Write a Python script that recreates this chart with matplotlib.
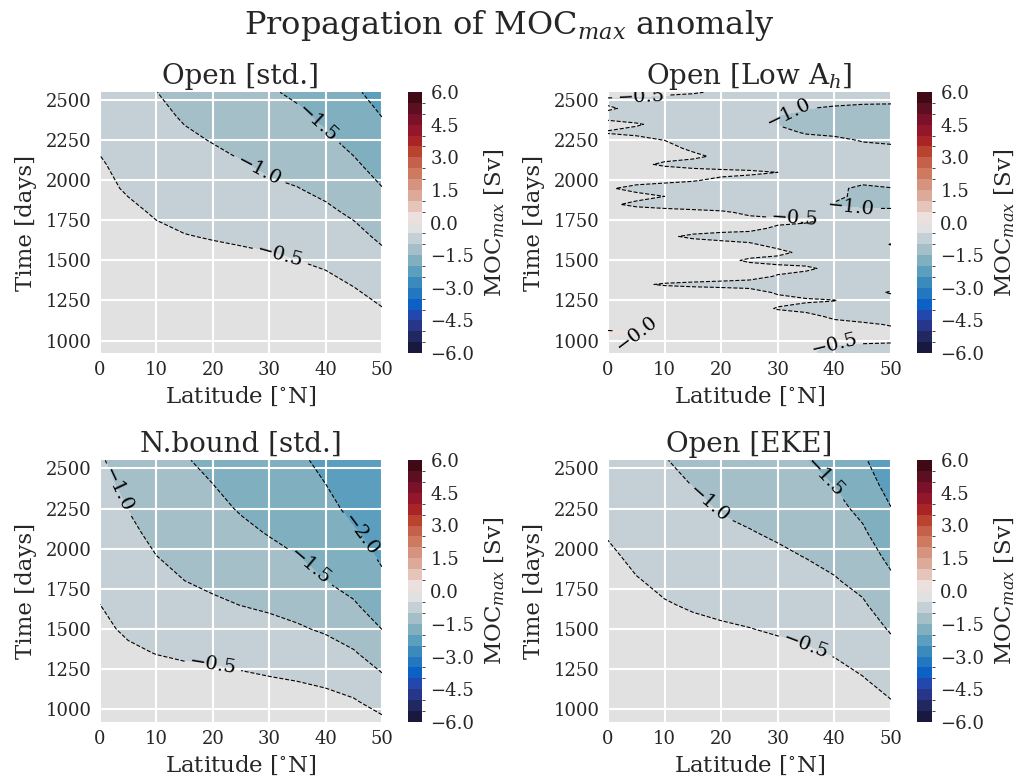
import numpy as np
import matplotlib
matplotlib.use("Agg")
import matplotlib.pyplot as plt
from matplotlib.colors import ListedColormap, BoundaryNorm

plt.rcParams.update({
    "font.family": "serif",
    "font.serif": ["DejaVu Serif"],
    "mathtext.fontset": "dejavuserif",
    "text.color": "#262626",
    "axes.labelcolor": "#262626",
    "xtick.color": "#262626",
    "ytick.color": "#262626",
    "axes.facecolor": "#EAEAF2",
    "axes.edgecolor": "white",
    "grid.color": "white",
    "axes.linewidth": 0,
    "xtick.major.size": 0,
    "ytick.major.size": 0,
    "contour.negative_linestyle": "dashed",
})

# ---------------- data ----------------
lat = [0, 5, 10, 15, 20, 25, 30, 35, 40, 45, 50]
time_smooth = [900, 1050, 1200, 1350, 1500, 1650, 1800, 1950, 2100, 2250, 2400, 2550]

open_std = [
    [-0.15, -0.20, -0.21, -0.24, -0.23, -0.24, -0.26, -0.28, -0.27, -0.26, -0.33],
    [-0.18, -0.24, -0.25, -0.29, -0.27, -0.28, -0.30, -0.33, -0.31, -0.30, -0.40],
    [-0.22, -0.28, -0.29, -0.34, -0.31, -0.32, -0.35, -0.38, -0.35, -0.338, -0.487],
    [-0.26, -0.32, -0.34, -0.39, -0.35, -0.37, -0.40, -0.44, -0.396, -0.518, -0.682],
    [-0.30, -0.36, -0.39, -0.44, -0.396, -0.415, -0.441, -0.498, -0.571, -0.698, -0.877],
    [-0.34, -0.40, -0.438, -0.487, -0.520, -0.555, -0.605, -0.662, -0.747, -0.879, -1.076],
    [-0.38, -0.438, -0.530, -0.598, -0.644, -0.695, -0.769, -0.826, -0.923, -1.062, -1.282],
    [-0.42, -0.534, -0.623, -0.709, -0.768, -0.836, -0.933, -0.990, -1.094, -1.252, -1.488],
    [-0.462, -0.630, -0.716, -0.820, -0.892, -0.976, -1.076, -1.136, -1.262, -1.442, -1.661],
    [-0.563, -0.726, -0.808, -0.930, -1.017, -1.116, -1.203, -1.280, -1.430, -1.610, -1.833],
    [-0.664, -0.822, -0.901, -1.041, -1.141, -1.257, -1.330, -1.424, -1.591, -1.768, -2.005],
    [-0.764, -0.918, -0.994, -1.152, -1.265, -1.397, -1.457, -1.568, -1.747, -1.926, -2.180],
]

nbound_std = [
    [-0.23, -0.29, -0.28, -0.28, -0.29, -0.31, -0.33, -0.28, -0.31, -0.38, -0.371],
    [-0.27, -0.34, -0.33, -0.33, -0.34, -0.37, -0.40, -0.325, -0.376, -0.465, -0.660],
    [-0.32, -0.40, -0.384, -0.40, -0.412, -0.448, -0.492, -0.535, -0.600, -0.714, -0.948],
    [-0.38, -0.451, -0.507, -0.55, -0.588, -0.634, -0.687, -0.744, -0.825, -0.962, -1.227],
    [-0.44, -0.544, -0.629, -0.70, -0.765, -0.821, -0.881, -0.954, -1.050, -1.210, -1.504],
    [-0.498, -0.637, -0.751, -0.85, -0.941, -1.005, -1.061, -1.138, -1.275, -1.459, -1.708],
    [-0.573, -0.730, -0.873, -0.999, -1.071, -1.139, -1.217, -1.316, -1.499, -1.636, -1.914],
    [-0.648, -0.822, -0.995, -1.094, -1.178, -1.272, -1.374, -1.493, -1.624, -1.800, -2.062],
    [-0.723, -0.915, -1.097, -1.188, -1.284, -1.406, -1.525, -1.599, -1.748, -1.964, -2.169],
    [-0.798, -1.009, -1.197, -1.281, -1.391, -1.537, -1.654, -1.703, -1.873, -2.113, -2.276],
    [-0.873, -1.116, -1.298, -1.375, -1.497, -1.662, -1.784, -1.807, -1.997, -2.256, -2.384],
    [-0.948, -1.223, -1.399, -1.469, -1.604, -1.787, -1.913, -1.910, -2.121, -2.400, -2.450],
]

open_eke = [
    [-0.17, -0.20, -0.22, -0.24, -0.25, -0.27, -0.27, -0.29, -0.28, -0.31, -0.299],
    [-0.20, -0.23, -0.26, -0.28, -0.30, -0.32, -0.31, -0.34, -0.32, -0.37, -0.484],
    [-0.24, -0.27, -0.31, -0.33, -0.35, -0.37, -0.36, -0.40, -0.379, -0.492, -0.669],
    [-0.28, -0.32, -0.36, -0.38, -0.40, -0.43, -0.406, -0.458, -0.526, -0.645, -0.854],
    [-0.32, -0.37, -0.41, -0.433, -0.460, -0.492, -0.537, -0.596, -0.674, -0.798, -1.039],
    [-0.36, -0.42, -0.479, -0.529, -0.575, -0.614, -0.668, -0.734, -0.821, -0.951, -1.229],
    [-0.40, -0.481, -0.563, -0.625, -0.689, -0.736, -0.798, -0.873, -0.968, -1.111, -1.418],
    [-0.44, -0.567, -0.647, -0.722, -0.803, -0.858, -0.929, -1.010, -1.106, -1.275, -1.608],
    [-0.528, -0.653, -0.731, -0.818, -0.918, -0.980, -1.053, -1.130, -1.242, -1.439, -1.797],
    [-0.616, -0.740, -0.815, -0.914, -1.030, -1.096, -1.168, -1.251, -1.378, -1.601, -1.987],
    [-0.705, -0.826, -0.899, -1.010, -1.137, -1.212, -1.284, -1.371, -1.514, -1.763, -2.177],
    [-0.793, -0.912, -0.983, -1.106, -1.244, -1.327, -1.399, -1.492, -1.650, -1.925, -2.367],
]

time_lowah = list(range(900, 2551, 50))
open_low_ah = [
    [-0.20, -0.22, -0.24, -0.26, -0.28, -0.30, -0.34, -0.46, -0.62, -0.68, -0.70],  # 900
    [-0.22, -0.24, -0.26, -0.28, -0.30, -0.32, -0.36, -0.42, -0.60, -0.65, -0.68],  # 950
    [-0.10, -0.12, -0.26, -0.28, -0.30, -0.32, -0.34, -0.36, -0.38, -0.40, -0.42],  # 1000
    [0.04, 0.02, -0.22, -0.28, -0.30, -0.32, -0.34, -0.36, -0.38, -0.40, -0.42],    # 1050
    [-0.12, -0.20, -0.28, -0.30, -0.32, -0.34, -0.36, -0.38, -0.40, -0.45, -0.52],  # 1100
    [-0.20, -0.26, -0.30, -0.32, -0.34, -0.36, -0.38, -0.40, -0.56, -0.63, -0.66],  # 1150
    [-0.22, -0.28, -0.30, -0.33, -0.36, -0.38, -0.52, -0.60, -0.64, -0.66, -0.70],  # 1200
    [-0.24, -0.28, -0.31, -0.34, -0.36, -0.38, -0.42, -0.46, -0.49, -0.62, -0.75],  # 1250
    [-0.25, -0.29, -0.32, -0.35, -0.37, -0.40, -0.53, -0.62, -0.66, -0.80, -1.05],  # 1300
    [-0.28, -0.45, -0.53, -0.56, -0.58, -0.60, -0.62, -0.65, -0.68, -0.72, -0.78],  # 1350
    [-0.26, -0.30, -0.33, -0.36, -0.39, -0.42, -0.52, -0.60, -0.64, -0.68, -0.72],  # 1400
    [-0.27, -0.31, -0.34, -0.37, -0.39, -0.41, -0.43, -0.45, -0.58, -0.64, -0.70],  # 1450
    [-0.28, -0.32, -0.36, -0.40, -0.44, -0.53, -0.58, -0.62, -0.66, -0.70, -0.74],  # 1500
    [-0.29, -0.33, -0.36, -0.39, -0.41, -0.42, -0.44, -0.56, -0.62, -0.68, -0.74],  # 1550
    [-0.30, -0.34, -0.37, -0.40, -0.43, -0.47, -0.57, -0.62, -0.66, -0.74, -1.02],  # 1600
    [-0.32, -0.38, -0.46, -0.54, -0.58, -0.60, -0.63, -0.66, -0.70, -0.76, -0.85],  # 1650
    [-0.30, -0.34, -0.37, -0.40, -0.42, -0.44, -0.54, -0.60, -0.65, -0.72, -0.80],  # 1700
    [-0.31, -0.35, -0.38, -0.40, -0.42, -0.43, -0.44, -0.45, -0.56, -0.68, -0.78],  # 1750
    [-0.32, -0.36, -0.40, -0.43, -0.46, -0.55, -0.62, -0.70, -0.82, -0.92, -0.95],  # 1800
    [-0.45, -0.56, -0.60, -0.63, -0.66, -0.70, -0.76, -0.90, -1.02, -1.08, -1.05],  # 1850
    [-0.34, -0.42, -0.50, -0.55, -0.60, -0.64, -0.70, -0.80, -0.95, -1.06, -1.03],  # 1900
    [-0.47, -0.58, -0.62, -0.65, -0.68, -0.72, -0.78, -0.86, -0.96, -1.04, -1.01],  # 1950
    [-0.36, -0.40, -0.44, -0.48, -0.56, -0.62, -0.68, -0.76, -0.86, -0.95, -0.90],  # 2000
    [-0.30, -0.34, -0.37, -0.40, -0.42, -0.44, -0.50, -0.60, -0.72, -0.82, -0.88],  # 2050
    [-0.36, -0.44, -0.54, -0.60, -0.64, -0.68, -0.72, -0.78, -0.84, -0.90, -0.92],  # 2100
    [-0.34, -0.38, -0.42, -0.45, -0.55, -0.62, -0.68, -0.74, -0.82, -0.90, -0.94],  # 2150
    [-0.35, -0.40, -0.43, -0.54, -0.60, -0.65, -0.70, -0.76, -0.84, -0.92, -0.96],  # 2200
    [-0.38, -0.42, -0.50, -0.58, -0.63, -0.68, -0.74, -0.82, -0.92, -1.02, -1.04],  # 2250
    [-0.52, -0.56, -0.60, -0.64, -0.68, -0.74, -0.85, -1.05, -1.08, -1.10, -1.08],  # 2300
    [-0.42, -0.48, -0.56, -0.64, -0.70, -0.78, -1.02, -1.06, -1.09, -1.10, -1.12],  # 2350
    [-0.58, -0.60, -0.62, -0.67, -0.72, -0.80, -1.01, -1.05, -1.08, -1.10, -1.12],  # 2400
    [-0.47, -0.56, -0.60, -0.65, -0.70, -0.78, -0.90, -0.99, -1.04, -1.06, -1.05],  # 2450
    [-0.56, -0.58, -0.60, -0.64, -0.68, -0.74, -0.80, -0.86, -0.90, -0.94, -0.96],  # 2500
    [-0.36, -0.40, -0.44, -0.47, -0.55, -0.60, -0.66, -0.72, -0.78, -0.84, -0.88],  # 2550
]

titles = ["Open [std.]", "Open [Low A$_h$]", "N.bound [std.]", "Open [EKE]"]
x_ticks = [0, 10, 20, 30, 40, 50]
y_ticks = [1000, 1250, 1500, 1750, 2000, 2250, 2500]
cbar_ticks = [-6.0, -4.5, -3.0, -1.5, 0.0, 1.5, 3.0, 4.5, 6.0]

# 24 colour bins from -6 to 6 (bottom to top of colourbar)
bin_colors = [
    "#19193f", "#21285f", "#28368a", "#2447ad", "#0b61c5", "#2277c0",
    "#3a8abc", "#5b9ebd", "#80b0c0", "#a5bfc9", "#c5d0d6", "#e1e1e1",
    "#ece0df", "#e5c4ba", "#ddaa9a", "#d6937f", "#cd7a61", "#c5604a",
    "#b9432e", "#a92427", "#93162b", "#7a1029", "#5c0f20", "#3f0a15",
]

# contour-label anchor points (lat, day) per panel
label_spots = [
    [(39.5, 2390), (28, 2050), (32, 1530)],
    [(6, 2510), (32, 2420), (33, 1760), (43, 1830), (5, 1045), (40, 975)],
    [(4, 2380), (37, 1880), (47, 2100), (20, 1270)],
    [(18, 2280), (38.5, 2450), (35, 1400)],
]

# ---------------- plot ----------------
levels = np.linspace(-6, 6, 25)
cmap = ListedColormap(bin_colors)
norm = BoundaryNorm(levels, cmap.N)

W, H = 1019, 783
fig = plt.figure(figsize=(W / 100, H / 100), dpi=100)

panels = [
    (open_std, time_smooth, (100, 92, 382, 353), (408, 422)),
    (open_low_ah, time_lowah, (608, 92, 891, 353), (917, 932)),
    (nbound_std, time_smooth, (100, 460, 382, 722), (408, 422)),
    (open_eke, time_smooth, (608, 460, 891, 722), (917, 932)),
]


def fmt(v):
    if abs(v) < 1e-9:
        return "\u22120.0"
    return f"{v:.1f}".replace("-", "\u2212")


for i, (field, tt, (x0, y0, x1, y1), (cx0, cx1)) in enumerate(panels):
    ax = fig.add_axes([x0 / W, 1 - y1 / H, (x1 - x0) / W, (y1 - y0) / H])
    Z = np.array(field)
    X, Y = np.meshgrid(lat, tt)
    cf = ax.contourf(X, Y, Z, levels=levels, cmap=cmap, norm=norm, zorder=0.2)
    cs = ax.contour(X, Y, Z, levels=levels, colors="k", linewidths=0.8, zorder=2)
    ax.clabel(cs, fmt=fmt, fontsize=14, inline=True, manual=label_spots[i])
    ax.set_xlim(0, 50)
    ax.set_ylim(922, 2552)
    ax.set_xticks(x_ticks)
    ax.set_yticks(y_ticks)
    ax.grid(True, color="white", linewidth=1.5, zorder=0.5)
    ax.set_axisbelow(True)
    for s in ax.spines.values():
        s.set_visible(False)
    ax.tick_params(labelsize=13, length=0, pad=6)
    ax.set_xlabel("Latitude [$^{\\circ}$N]", fontsize=16.5, labelpad=4)
    ax.set_ylabel("Time [days]", fontsize=16.5, labelpad=6)
    ax.set_title(titles[i], fontsize=20, pad=6)

    cax = fig.add_axes([cx0 / W, 1 - y1 / H, (cx1 - cx0) / W, (y1 - y0) / H])
    cb = fig.colorbar(cf, cax=cax, ticks=cbar_ticks)
    cb.outline.set_visible(False)
    cb.ax.tick_params(labelsize=13, length=0, pad=6)
    cb.set_label("MOC$_{max}$ [Sv]", fontsize=16.5, labelpad=6)

fig.suptitle("Propagation of MOC$_{max}$ anomaly", fontsize=23, y=0.99)

fig.savefig("out.png", dpi=100)
